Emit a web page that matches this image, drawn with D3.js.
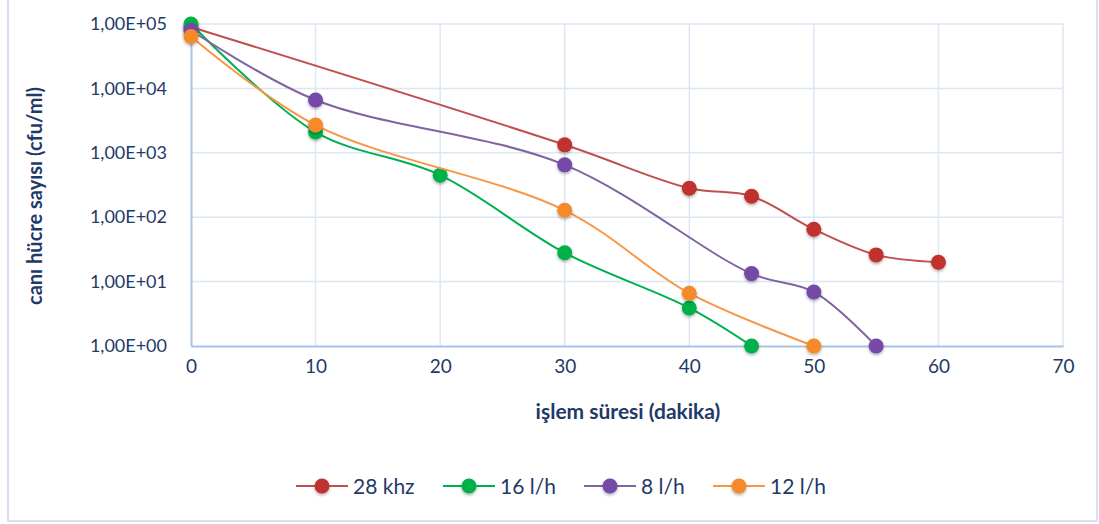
<!DOCTYPE html>
<html>
<head>
<meta charset="utf-8">
<script src="https://cdn.jsdelivr.net/npm/d3@7"></script>
<style>
  html, body { margin: 0; padding: 0; background: #fff; }
  svg { display: block; }
  text { font-family: Lato, "Open Sans", sans-serif; fill: #1F3A68; }
</style>
</head>
<body>
<svg id="chart" width="1099" height="524"></svg>
<script>
// ---- data ----
const seriesNames = ["28 khz", "16 l/h", "8 l/h", "12 l/h"];
const seriesColors = ["#C0504D", "#00B050", "#8064A2", "#F79646"];
const markerColors = ["#C0302E", "#00B04A", "#7448A8", "#F58A2A"];
const x28 = [0, 30, 40, 45, 50, 55, 60];
const y28 = [90000, 1330, 282, 212, 65, 26, 20];
const x16 = [0, 10, 20, 30, 40, 45];
const y16 = [100000, 2100, 450, 28, 3.9, 1];
const x8 = [0, 10, 30, 45, 50, 55];
const y8 = [80000, 6600, 650, 13.3, 6.9, 1];
const x12 = [0, 10, 30, 40, 50];
const y12 = [64000, 2700, 128, 6.6, 1];
const xTicks = [0, 10, 20, 30, 40, 50, 60, 70];
const yTicks = [1, 10, 100, 1000, 10000, 100000];
const yTickLabels = ["1,00E+00", "1,00E+01", "1,00E+02", "1,00E+03", "1,00E+04", "1,00E+05"];
const xTitle = "işlem süresi (dakika)";
const yTitle = "canı hücre sayısı (cfu/ml)";

const seriesX = [x28, x16, x8, x12];
const seriesY = [y28, y16, y8, y12];

// ---- layout ----
const svg = d3.select("#chart");
const L = 191, R = 1063, T = 24, B = 346;
const x = d3.scaleLinear().domain([0, 70]).range([L, R]);
const y = d3.scaleLog().domain([1, 100000]).range([B, T]);

const defs = svg.append("defs");
const f = defs.append("filter").attr("id", "shadow").attr("x", "-50%").attr("y", "-50%").attr("width", "200%").attr("height", "200%");
f.append("feDropShadow").attr("dx", 0).attr("dy", 1.5).attr("stdDeviation", 1.5).attr("flood-color", "#000").attr("flood-opacity", 0.35);

// outer frame
svg.append("rect").attr("x", 8).attr("y", -4).attr("width", 1089).attr("height", 525)
  .attr("fill", "none").attr("stroke", "#D6E2F3").attr("stroke-width", 2);

// gridlines
svg.append("g").selectAll("line").data(yTicks.slice(1)).join("line")
  .attr("x1", L).attr("x2", R).attr("y1", d => y(d)).attr("y2", d => y(d))
  .attr("stroke", "#DCE6F4").attr("stroke-width", 1.5);
svg.append("g").selectAll("line").data(xTicks.slice(1)).join("line")
  .attr("x1", d => x(d)).attr("x2", d => x(d)).attr("y1", T).attr("y2", B)
  .attr("stroke", "#DCE6F4").attr("stroke-width", 1.5);

// axes
const xAxis = svg.append("g").attr("transform", `translate(0,${B})`)
  .call(d3.axisBottom(x).tickValues(xTicks).tickSize(0).tickPadding(14).tickFormat(d3.format("d")));
xAxis.select(".domain").attr("stroke", "#A9C2E6").attr("stroke-width", 2);
xAxis.selectAll("text").style("font-size", "19px").attr("fill", "#1F3A68");

const yAxis = svg.append("g").attr("transform", `translate(${L},0)`)
  .call(d3.axisLeft(y).tickValues(yTicks).tickSize(0).tickPadding(24).tickFormat((d, i) => yTickLabels[i]));
yAxis.select(".domain").attr("stroke", "#A9C2E6").attr("stroke-width", 2);
yAxis.selectAll("text").style("font-size", "18px").attr("fill", "#1F3A68");

// titles
svg.append("text").attr("x", 628).attr("y", 419).attr("text-anchor", "middle")
  .style("font-size", "21px").style("font-weight", "bold").text(xTitle);
svg.append("text").attr("transform", "translate(42,196) rotate(-90)").attr("text-anchor", "middle")
  .style("font-size", "20px").style("font-weight", "bold").text(yTitle);

// series
const line = d3.line().x(d => x(d[0])).y(d => y(d[1])).curve(d3.curveCatmullRom.alpha(0.5));
seriesNames.forEach((name, i) => {
  const pts = seriesX[i].map((xv, j) => [xv, seriesY[i][j]]);
  const g = svg.append("g");
  g.append("path").datum(pts).attr("d", line).attr("fill", "none")
    .attr("stroke", seriesColors[i]).attr("stroke-width", 2);
  g.selectAll("circle").data(pts).join("circle")
    .attr("cx", d => x(d[0])).attr("cy", d => y(d[1])).attr("r", 7.5)
    .attr("fill", markerColors[i]).attr("filter", "url(#shadow)");
});

// legend
const legX = [296, 443, 584, 713];
const legY = 486;
seriesNames.forEach((name, i) => {
  const g = svg.append("g").attr("transform", `translate(${legX[i]},${legY})`);
  g.append("line").attr("x1", 0).attr("x2", 52).attr("stroke", seriesColors[i]).attr("stroke-width", 2);
  g.append("circle").attr("cx", 26).attr("r", 7.5).attr("fill", markerColors[i]).attr("filter", "url(#shadow)");
  g.append("text").attr("x", 57).attr("dy", "0.36em").style("font-size", "21px").text(name);
});
</script>
</body>
</html>
